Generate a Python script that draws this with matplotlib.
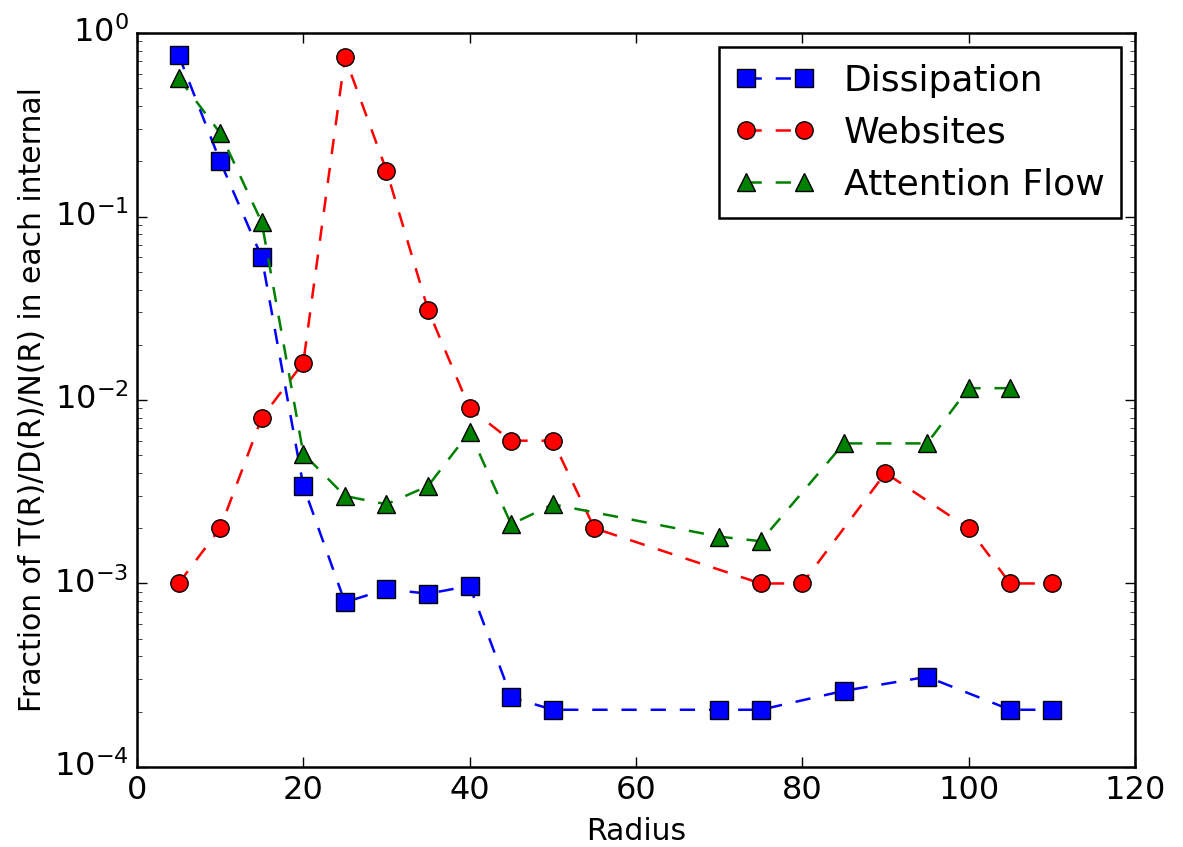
import matplotlib
matplotlib.use("Agg")
import matplotlib.pyplot as plt

plt.style.use("classic")

# radius values per series
r_diss = [5, 10, 15, 20, 25, 30, 35, 40, 45, 50, 70, 75, 85, 95, 105, 110]
diss = [0.76, 0.20, 0.060, 0.0034, 0.00079, 0.00093, 0.00088, 0.00097,
        0.00024, 0.000205, 0.000205, 0.000205, 0.00026, 0.00031, 0.000205, 0.000205]

r_web = [5, 10, 15, 20, 25, 30, 35, 40, 45, 50, 55, 75, 80, 90, 100, 105, 110]
web = [0.001, 0.002, 0.008, 0.016, 0.74, 0.178, 0.031, 0.009, 0.006, 0.006,
       0.002, 0.001, 0.001, 0.004, 0.002, 0.001, 0.001]

r_att = [5, 10, 15, 20, 25, 30, 35, 40, 45, 50, 70, 75, 85, 95, 100, 105]
att = [0.57, 0.285, 0.093, 0.0051, 0.0030, 0.0027, 0.0034, 0.0067,
       0.0021, 0.0027, 0.0018, 0.0017, 0.0058, 0.0058, 0.0116, 0.0116]

fig = plt.figure(figsize=(11.83, 8.47), dpi=100, facecolor="white")
ax = fig.add_axes([0.1158, 0.0945, 0.8436, 0.8665])

style = dict(linestyle="--", dashes=(11, 10), linewidth=1.8, markersize=12.5,
             markeredgecolor="black", markeredgewidth=1)
ax.plot(r_diss, diss, color="blue", marker="s", label="Dissipation", **style)
ax.plot(r_web, web, color="red", marker="o", label="Websites", **style)
ax.plot(r_att, att, color="green", marker="^", label="Attention Flow", **style)

ax.set_yscale("log")
ax.set_xlim(0, 120)
ax.set_ylim(1e-4, 1)

ax.set_xlabel("Radius", fontsize=21.5, labelpad=8)
ax.set_ylabel("Fraction of T(R)/D(R)/N(R) in each internal", fontsize=21.5)
ax.tick_params(labelsize=23, width=1, pad=6)
ax.tick_params(which="major", length=7)
ax.tick_params(which="minor", length=3.5)
for s in ax.spines.values():
    s.set_linewidth(1.8)

leg = ax.legend(loc="upper right", fontsize=26, numpoints=2,
                borderaxespad=0.4, handlelength=2.2, labelspacing=0.5,
                borderpad=0.45)
leg.get_frame().set_linewidth(1.8)

fig.savefig("out.png", dpi=100, facecolor="white")
